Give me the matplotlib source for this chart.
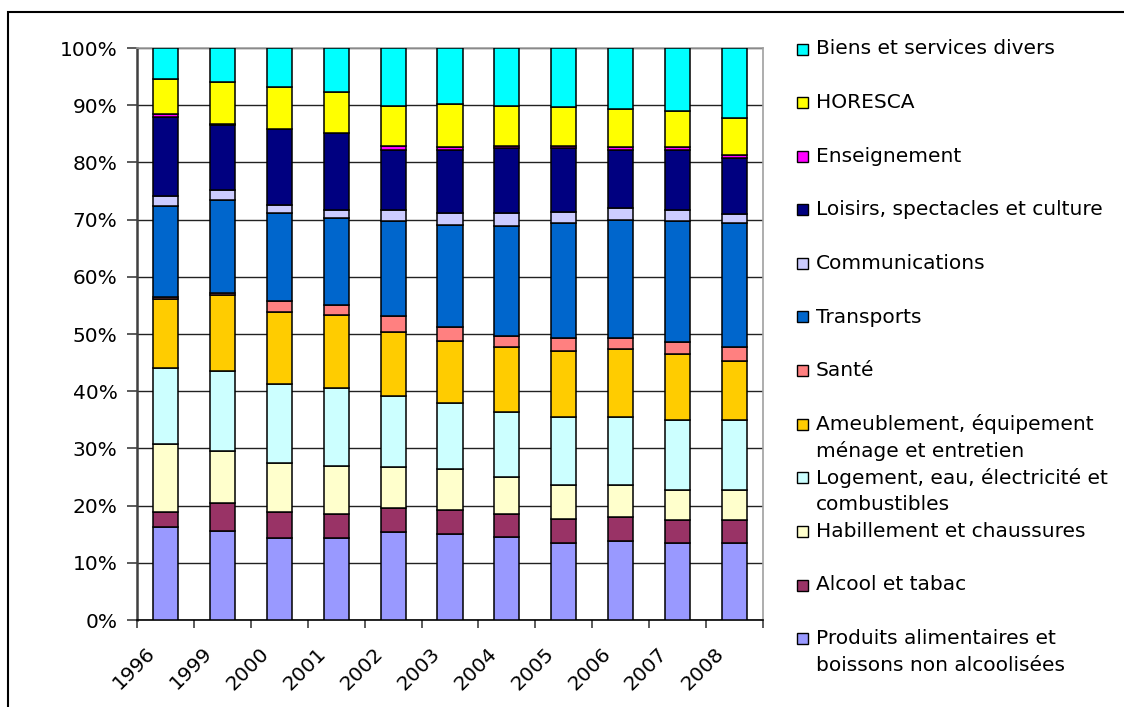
import matplotlib
matplotlib.use("Agg")
import matplotlib.pyplot as plt
import matplotlib.transforms as mtransforms
from matplotlib.patches import Rectangle
import numpy as np

plt.rcParams['font.family'] = ['DejaVu Sans']

years = ["1996", "1999", "2000", "2001", "2002", "2003", "2004", "2005", "2006", "2007", "2008"]

# shares in %, bottom of the stack first
food      = [16.3, 15.6, 14.4, 14.4, 15.4, 15.0, 14.5, 13.5, 13.8, 13.5, 13.5]
alcohol   = [2.6, 4.8, 4.5, 4.2, 4.1, 4.2, 4.1, 4.2, 4.2, 3.9, 3.9]
clothing  = [11.9, 9.2, 8.6, 8.3, 7.2, 7.2, 6.4, 5.9, 5.6, 5.3, 5.3]
housing   = [13.3, 14.0, 13.7, 13.7, 12.4, 11.6, 11.4, 11.9, 11.9, 12.3, 12.3]
furniture = [12.1, 13.2, 12.7, 12.8, 11.3, 10.8, 11.3, 11.6, 11.9, 11.5, 10.3]
health    = [0.3, 0.3, 1.8, 1.7, 2.7, 2.5, 2.0, 2.2, 1.9, 2.1, 2.5]
transport = [15.9, 16.4, 15.5, 15.2, 16.6, 17.8, 19.2, 20.1, 20.7, 21.1, 21.6]
comms     = [1.8, 1.6, 1.4, 1.4, 2.0, 2.1, 2.3, 2.0, 2.0, 2.0, 1.6]
leisure   = [13.7, 11.5, 13.2, 13.4, 10.5, 11.0, 11.4, 11.2, 10.2, 10.5, 9.7]
education = [0.5, 0.2, 0.1, 0.1, 0.6, 0.5, 0.2, 0.2, 0.5, 0.5, 0.6]
horeca    = [6.2, 7.3, 7.3, 7.1, 7.1, 7.5, 7.1, 6.8, 6.6, 6.3, 6.5]
misc      = [5.4, 5.9, 6.8, 7.7, 10.1, 9.8, 10.1, 10.4, 10.7, 11.0, 12.2]

series = [food, alcohol, clothing, housing, furniture, health,
          transport, comms, leisure, education, horeca, misc]
labels = ["Produits alimentaires et\nboissons non alcoolisées",
          "Alcool et tabac",
          "Habillement et chaussures",
          "Logement, eau, électricité et\ncombustibles",
          "Ameublement, équipement\nménage et entretien",
          "Santé",
          "Transports",
          "Communications",
          "Loisirs, spectacles et culture",
          "Enseignement",
          "HORESCA",
          "Biens et services divers"]
colors = ["#9999FF", "#993366", "#FFFFCC", "#CCFFFF", "#FFCC00", "#FF8080",
          "#0066CC", "#CCCCFF", "#000080", "#FF00FF", "#FFFF00", "#00FFFF"]

FS = 14.5
W, H = 1124, 707
fig = plt.figure(figsize=(W / 100, H / 100), dpi=100)
ax = fig.add_axes([137 / W, 1 - 620 / H, 626 / W, 572 / H])

data = np.array(series, dtype=float)
data = data / data.sum(axis=0) * 100  # 100 % stacked
x = np.arange(len(years))
bottom = np.zeros(len(years))
for vals, col in zip(data, colors):
    ax.bar(x, vals, 0.44, bottom=bottom, color=col, edgecolor="black",
           linewidth=1.1, zorder=3)
    bottom += vals

ax.set_xlim(-0.5, len(years) - 0.5)
ax.set_ylim(0, 100)
ax.set_yticks(np.arange(0, 101, 10))
ax.set_yticklabels([f"{v}%" for v in range(0, 101, 10)], fontsize=FS)
ax.yaxis.grid(True, color="#222222", linewidth=1.0, zorder=0)
ax.tick_params(axis="y", direction="out", length=7, width=1.2, color="#404040", pad=7)

# category labels at bar centres, tick marks at category boundaries
ax.set_xticks(x)
ax.set_xticklabels(years, fontsize=FS, rotation=45, ha="right", va="top",
                   rotation_mode="anchor")
ax.set_xticks(np.arange(-0.5, len(years), 1), minor=True)
ax.tick_params(axis="x", which="major", length=0, pad=17)
ax.tick_params(axis="x", which="minor", direction="out", length=6, width=1.2, color="#404040")
offset = mtransforms.ScaledTranslation(-20 / 100, 0, fig.dpi_scale_trans)
for lab in ax.get_xticklabels():
    lab.set_transform(lab.get_transform() + offset)

ax.spines["left"].set_color("#404040")
ax.spines["left"].set_linewidth(1.8)
ax.spines["bottom"].set_color("#000000")
ax.spines["bottom"].set_linewidth(1.2)
for s in ["top", "right"]:
    ax.spines[s].set_color("#A0A0A0")
    ax.spines[s].set_linewidth(1.2)

# legend, drawn top entry first
for i, (lab, col) in enumerate(zip(labels[::-1], colors[::-1])):
    yc = 49 + i * 53.6
    fig.patches.append(Rectangle((797 / W, 1 - (yc + 5.5) / H), 11 / W, 11 / H,
                                 transform=fig.transFigure, facecolor=col,
                                 edgecolor="black", linewidth=1.0))
    for j, line in enumerate(lab.split("\n")):
        fig.text(816 / W, 1 - (yc + j * 27) / H, line, fontsize=FS,
                 va="center", ha="left")

# outer frame of the chart object
fig.patches.append(Rectangle((8 / W, -0.05), 1.2, 1 - 12 / H + 0.05,
                             transform=fig.transFigure, fill=False,
                             edgecolor="black", linewidth=1.5))

fig.savefig("out.png", dpi=100)
